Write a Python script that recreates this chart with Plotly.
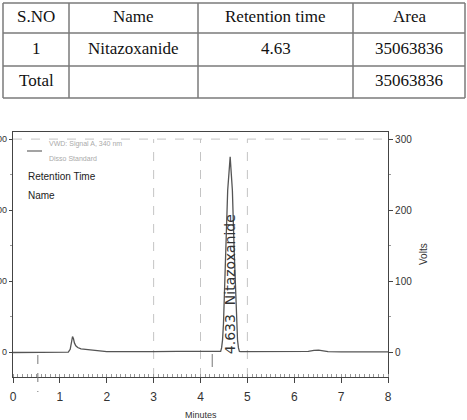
import plotly.graph_objects as go

# ---------------- table data ----------------
table_header = ["S.NO", "Name", "Retention time", "Area"]
table_rows = [["1", "Nitazoxanide", "4.63", "35063836"],
              ["Total", "", "", "35063836"]]

# ---------------- chromatogram data ----------------
time_min = [0.0, 0.5, 1.0, 1.18, 1.22, 1.25, 1.27, 1.29, 1.31, 1.34, 1.38, 1.45, 1.6, 1.8, 2.0,
            2.5, 3.0, 3.5, 4.0, 4.3, 4.40, 4.43, 4.45, 4.47, 4.49, 4.51, 4.54, 4.58, 4.633,
            4.68, 4.72, 4.75, 4.77, 4.79, 4.81, 4.83, 4.86, 5.0, 5.5, 6.0, 6.3, 6.42, 6.52,
            6.62, 6.72, 7.0, 7.5, 8.0]
signal = [-0.5, -0.5, -0.3, 0.0, 4, 14, 22, 19, 13, 9, 6.5, 4.5, 3, 2, 0.8,
          0.5, 0.8, 1.0, 0.8, 0.6, 0.6, 1, 6, 17, 40, 87, 140, 228, 275,
          228, 140, 87, 40, 17, 6, 1, 0.8, 0.8, 0.8, 0.8, 1.0, 2.5, 2.8,
          1.8, 0.6, 0.5, 0.5, 0.5]

peak_time = 4.633
peak_name = "Nitazoxanide"
x_ticks = [0, 1, 2, 3, 4, 5, 6, 7, 8]
y_ticks = [0, 100, 200, 300]
grid_x = [3, 4, 5]
event_marks = [0.53, 4.25]

# ---------------- geometry helpers (pixels -> paper) ----------------
L, R, T, B = 13, 79, 132, 43
W, H = 467, 420
PW, PH = W - L - R, H - T - B


def xp(px):
    return (px - L) / PW


def yp(py):
    return (H - B - py) / PH


SANS = "Liberation Sans, Arial, sans-serif"
SERIF = "Liberation Serif, Times New Roman, serif"

fig = go.Figure()
fig.add_trace(go.Scatter(x=time_min, y=signal, mode="lines",
                         line=dict(color="#555555", width=1.3), showlegend=False,
                         hoverinfo="skip"))
# invisible trace on right axis
fig.add_trace(go.Scatter(x=[0], y=[0], yaxis="y2", mode="markers",
                         marker=dict(opacity=0), showlegend=False, hoverinfo="skip"))

shapes = []
annotations = []

# gridlines (dashed)
for gx in grid_x:
    shapes.append(dict(type="line", xref="x", yref="y", x0=gx, x1=gx, y0=-35, y1=300,
                       line=dict(color="#c4c4c4", width=1, dash="dash"), layer="below"))
shapes.append(dict(type="line", xref="paper", yref="y", x0=0, x1=1, y0=300, y1=300,
                   line=dict(color="#c4c4c4", width=1, dash="dash"), layer="below"))
# integration event marks
shapes.append(dict(type="line", xref="x", yref="paper", x0=event_marks[0], x1=event_marks[0],
                   y0=yp(355), y1=yp(392), line=dict(color="#777777", width=1, dash="dash")))
shapes.append(dict(type="line", xref="x", yref="paper", x0=event_marks[1], x1=event_marks[1],
                   y0=yp(354), y1=yp(367), line=dict(color="#777777", width=1)))

# legend line
shapes.append(dict(type="line", xref="paper", yref="paper", x0=xp(27), x1=xp(42),
                   y0=yp(151), y1=yp(151), line=dict(color="#666666", width=1.2)))
annotations += [
    dict(xref="paper", yref="paper", x=xp(47), y=yp(144), text="VWD: Signal A, 340 nm",
         showarrow=False, xanchor="left", yanchor="middle",
         font=dict(family=SANS, size=7, color="#aaaaaa")),
    dict(xref="paper", yref="paper", x=xp(47), y=yp(158), text="Disso Standard",
         showarrow=False, xanchor="left", yanchor="middle",
         font=dict(family=SANS, size=7, color="#aaaaaa")),
    dict(xref="paper", yref="paper", x=xp(26), y=yp(176), text="Retention Time",
         showarrow=False, xanchor="left", yanchor="middle",
         font=dict(family=SANS, size=10, color="#222222")),
    dict(xref="paper", yref="paper", x=xp(26), y=yp(195), text="Name",
         showarrow=False, xanchor="left", yanchor="middle",
         font=dict(family=SANS, size=10, color="#222222")),
    # peak label
    dict(xref="x", yref="paper", x=peak_time, y=yp(284), text=f"{peak_time}\u00a0\u00a0{peak_name}",
         showarrow=False, textangle=-90, xanchor="center", yanchor="middle",
         font=dict(family="DejaVu Sans, sans-serif", size=14, color="#333333")),
    # axis titles
    dict(xref="paper", yref="paper", x=xp(201), y=yp(415), text="Minutes",
         showarrow=False, xanchor="center", yanchor="middle",
         font=dict(family=SANS, size=9, color="#333333")),
    dict(xref="paper", yref="paper", x=xp(423), y=yp(254), text="Volts",
         showarrow=False, textangle=-90, xanchor="center", yanchor="middle",
         font=dict(family=SANS, size=10, color="#333333")),
]

# ---------------- table ----------------
col_edges = [3, 69, 198, 353, 465]
row_edges = [3, 33, 66, 98]
col_centers = [36, 133.5, 275.5, 409]
for cx in col_edges:
    shapes.append(dict(type="line", xref="paper", yref="paper", x0=xp(cx), x1=xp(cx),
                       y0=yp(row_edges[0]), y1=yp(row_edges[-1]),
                       line=dict(color="#7a7a7a", width=1.5)))
for ry in row_edges:
    shapes.append(dict(type="line", xref="paper", yref="paper", x0=xp(col_edges[0]),
                       x1=xp(col_edges[-1]), y0=yp(ry), y1=yp(ry),
                       line=dict(color="#7a7a7a", width=1.5)))
all_rows = [table_header] + table_rows
for ri, row in enumerate(all_rows):
    cy = (row_edges[ri] + row_edges[ri + 1]) / 2 - 1.5
    for ci, txt in enumerate(row):
        if txt:
            annotations.append(dict(xref="paper", yref="paper", x=xp(col_centers[ci]), y=yp(cy),
                                    text=txt, showarrow=False, xanchor="center", yanchor="middle",
                                    font=dict(family=SERIF, size=17, color="#111111")))

axis_font = dict(family=SANS, size=9, color="#333333")
fig.update_layout(
    width=W, height=H,
    margin=dict(l=L, r=R, t=T, b=B, pad=0, autoexpand=False),
    paper_bgcolor="white", plot_bgcolor="white",
    showlegend=False,
    xaxis=dict(range=[0, 8], tickvals=x_ticks, showgrid=False, zeroline=False,
               automargin=False,
               showline=True, mirror=True, linecolor="#444444", linewidth=1.2,
               ticks="outside", ticklen=5, tickcolor="#444444", ticklabelstandoff=3,
               tickfont=dict(family=SANS, size=12, color="#333333"),
               minor=dict(dtick=0.1, ticks="inside", ticklen=3, tickcolor="#999999",
                          showgrid=False)),
    yaxis=dict(range=[-35, 310], tickvals=y_ticks, showgrid=False, zeroline=False,
               automargin=False,
               showline=True, linecolor="#444444", linewidth=1.2,
               ticks="outside", ticklen=3, tickcolor="#444444", tickfont=axis_font,
               ticklabelstandoff=0,
               minor=dict(dtick=50, ticks="outside", ticklen=2, tickcolor="#999999",
                          showgrid=False)),
    yaxis2=dict(range=[-35, 310], tickvals=y_ticks, overlaying="y", side="right",
                automargin=False,
                showgrid=False, zeroline=False, showline=True, linecolor="#444444",
                linewidth=1.2, ticks="outside", ticklen=4, tickcolor="#444444",
                tickfont=dict(family=SANS, size=10, color="#333333"),
                minor=dict(dtick=50, ticks="outside", ticklen=2, tickcolor="#999999",
                           showgrid=False)),
    shapes=shapes,
    annotations=annotations,
)

fig.write_html("out.html")
